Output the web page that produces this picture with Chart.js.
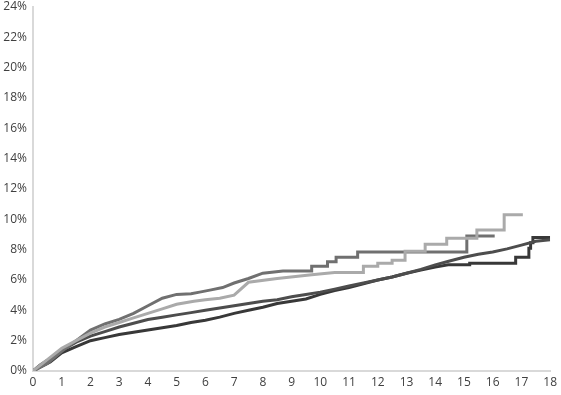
<!DOCTYPE html>
<html>
<head>
<meta charset="utf-8">
<script src="https://cdn.jsdelivr.net/npm/chart.js@4"></script>
<style>
  html, body { margin: 0; padding: 0; background: #fff; }
  #wrap { width: 561px; height: 395px; }
</style>
</head>
<body>
<div id="wrap"><canvas id="myChart" width="561" height="395"></canvas></div>
<script>
// years on x, cumulative % on y; repeated times mark the vertical steps
const mediumT = [0, 0.5, 1, 1.5, 2, 2.5, 3, 3.5, 4, 4.5, 5, 5.5, 5.8, 6.2, 6.6, 7, 7.5, 8, 8.7, 9.7, 9.7, 10.25, 10.25, 10.55, 10.55, 11.3, 11.3, 15.1, 15.1, 16.07];
const mediumV = [0, 0.5, 1.3, 2.0, 2.7, 3.1, 3.4, 3.8, 4.3, 4.8, 5.05, 5.1, 5.2, 5.35, 5.5, 5.8, 6.1, 6.45, 6.6, 6.6, 6.9, 6.9, 7.2, 7.2, 7.5, 7.5, 7.85, 7.85, 8.9, 8.9];

const lightT = [0, 0.5, 1, 1.5, 2, 2.5, 3, 3.5, 4, 4.5, 5, 5.6, 6, 6.5, 7, 7.5, 8.5, 9.7, 10.5, 11.5, 11.5, 12, 12, 12.5, 12.5, 12.95, 12.95, 13.65, 13.65, 14.4, 14.4, 15.45, 15.45, 16.4, 16.4, 17.05];
const lightV = [0, 0.75, 1.5, 2.0, 2.5, 2.9, 3.2, 3.5, 3.8, 4.1, 4.4, 4.6, 4.7, 4.8, 5.0, 5.85, 6.1, 6.35, 6.5, 6.5, 6.9, 6.9, 7.1, 7.1, 7.3, 7.3, 7.9, 7.9, 8.35, 8.35, 8.75, 8.75, 9.3, 9.3, 10.3, 10.3];

const smoothT = [0, 0.25, 0.5, 1, 1.5, 2, 2.5, 3, 3.5, 4, 4.5, 5, 5.5, 6, 6.5, 7, 7.5, 8, 8.5, 9, 9.5, 10, 10.5, 11, 11.5, 12, 12.5, 13, 13.5, 14, 14.5, 15, 15.5, 16, 16.5, 17, 17.5, 18];
const smoothV = [0, 0.4, 0.7, 1.35, 1.9, 2.3, 2.6, 2.9, 3.15, 3.4, 3.55, 3.7, 3.85, 4.0, 4.15, 4.3, 4.45, 4.6, 4.7, 4.9, 5.05, 5.2, 5.4, 5.6, 5.8, 6.0, 6.2, 6.45, 6.7, 7.0, 7.25, 7.5, 7.7, 7.85, 8.05, 8.3, 8.55, 8.65];

const darkT = [0, 0.3, 0.6, 1, 1.5, 2, 2.5, 3, 3.5, 4, 4.5, 5, 5.5, 6, 6.5, 7, 7.5, 8, 8.5, 9, 9.5, 10, 10.5, 11, 11.5, 12, 12.5, 13, 13.5, 14, 14.45, 15.2, 15.2, 16.8, 16.8, 17.26, 17.26, 17.32, 17.32, 17.4, 17.4, 18];
const darkV = [0, 0.3, 0.6, 1.2, 1.6, 2.0, 2.2, 2.4, 2.55, 2.7, 2.85, 3.0, 3.2, 3.35, 3.55, 3.8, 4.0, 4.2, 4.45, 4.6, 4.75, 5.05, 5.3, 5.5, 5.75, 6.0, 6.2, 6.45, 6.65, 6.85, 7.0, 7.0, 7.1, 7.1, 7.5, 7.5, 8.1, 8.1, 8.45, 8.45, 8.8, 8.8];

const yTicks = [0, 2, 4, 6, 8, 10, 12, 14, 16, 18, 20, 22, 24];
const xTicks = [0, 1, 2, 3, 4, 5, 6, 7, 8, 9, 10, 11, 12, 13, 14, 15, 16, 17, 18];

function pts(t, v) {
  return t.map((x, i) => ({ x: x, y: v[i] }));
}

function series(t, v, color) {
  return {
    data: pts(t, v),
    borderColor: color,
    backgroundColor: color,
    borderWidth: 3,
    pointRadius: 0,
    tension: 0,
    fill: false
  };
}

const ctx = document.getElementById('myChart').getContext('2d');
new Chart(ctx, {
  type: 'line',
  data: {
    datasets: [
      series(lightT, lightV, '#aaaaaa'),
      series(mediumT, mediumV, '#707070'),
      series(smoothT, smoothV, '#4d4d4d'),
      series(darkT, darkV, '#383838')
    ]
  },
  options: {
    responsive: false,
    animation: false,
    layout: { padding: { top: 7, right: 10, left: 0, bottom: 0 } },
    plugins: {
      legend: { display: false },
      tooltip: { enabled: false }
    },
    scales: {
      x: {
        type: 'linear',
        min: 0,
        max: 18,
        afterBuildTicks: axis => { axis.ticks = xTicks.map(v => ({ value: v })); },
        afterFit: axis => { axis.height = 24; },
        ticks: {
          color: '#404040',
          font: { family: 'Open Sans', size: 12 },
          padding: 4,
          maxRotation: 0,
          autoSkip: false
        },
        grid: { display: false, drawTicks: false },
        border: { display: true, color: '#d9d9d9', width: 2 }
      },
      y: {
        min: 0,
        max: 24,
        afterBuildTicks: axis => { axis.ticks = yTicks.map(v => ({ value: v })); },
        afterFit: axis => { axis.width = 33; axis.paddingTop = 0; },
        ticks: {
          color: '#404040',
          font: { family: 'Open Sans', size: 12 },
          padding: 6,
          callback: v => v + '%'
        },
        grid: { display: false, drawTicks: false },
        border: { display: true, color: '#d9d9d9', width: 2 }
      }
    }
  }
});
</script>
</body>
</html>
